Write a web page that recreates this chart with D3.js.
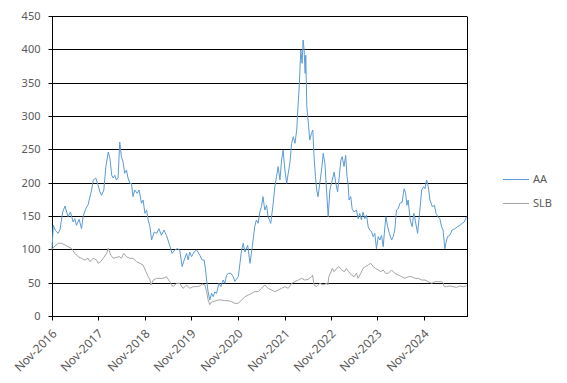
<!DOCTYPE html>
<html>
<head>
<meta charset="utf-8">
<script src="https://cdn.jsdelivr.net/npm/d3@7"></script>
<style>
  body { margin: 0; background: #fff; }
  text { font-family: "Noto Sans", sans-serif; }
  .tick-label { font-size: 11px; fill: #595959; }
  .x-label { font-size: 12px; fill: #595959; }
  .legend-label { font-size: 11px; fill: #595959; }
</style>
</head>
<body>
<div id="chart"></div>
<script>
// series names
const seriesNames = ["AA", "SLB"];

// AA (indexed, Nov-2016 = 100)
const aaDates = ["2016-11-01","2016-11-11","2016-11-29","2016-12-20","2017-01-03","2017-01-24","2017-02-11","2017-02-24","2017-03-07","2017-03-26",
  "2017-04-16","2017-04-29","2017-05-12","2017-06-02","2017-06-21","2017-07-03","2017-07-24","2017-08-12","2017-08-20","2017-09-08",
  "2017-09-21","2017-10-11","2017-10-29","2017-11-12","2017-11-25","2017-12-13","2017-12-29","2018-01-17","2018-01-30","2018-02-13",
  "2018-02-25","2018-03-09","2018-03-22","2018-04-04","2018-04-17","2018-04-30","2018-05-13","2018-05-26","2018-06-09","2018-06-21",
  "2018-07-05","2018-07-18","2018-07-30","2018-08-13","2018-09-01","2018-09-16","2018-10-05","2018-10-17","2018-11-01","2018-11-14",
  "2018-11-26","2018-12-10","2018-12-23","2019-01-13","2019-02-01","2019-02-19","2019-03-10","2019-03-30","2019-04-19","2019-05-14",
  "2019-06-02","2019-06-23","2019-07-14","2019-08-01","2019-08-20","2019-09-05","2019-09-24","2019-10-06","2019-10-19","2019-11-02",
  "2019-11-22","2019-12-11","2019-12-23","2020-01-06","2020-01-24","2020-02-09","2020-02-20","2020-02-28","2020-03-11","2020-03-24",
  "2020-04-07","2020-04-20","2020-05-02","2020-05-16","2020-06-04","2020-06-19","2020-07-07","2020-07-20","2020-08-03","2020-08-16",
  "2020-09-06","2020-09-24","2020-10-07","2020-11-03","2020-11-16","2020-11-29","2020-12-12","2020-12-25","2021-01-16","2021-02-03",
  "2021-02-21","2021-03-12","2021-03-25","2021-04-08","2021-04-21","2021-05-04","2021-05-16","2021-05-30","2021-06-13","2021-06-25",
  "2021-07-16","2021-08-04","2021-08-17","2021-08-30","2021-09-12","2021-09-26","2021-10-09","2021-10-21","2021-11-04","2021-11-18",
  "2021-11-30","2021-12-13","2021-12-27","2022-01-09","2022-01-22","2022-02-05","2022-02-13","2022-02-23","2022-03-01","2022-03-09",
  "2022-03-19","2022-03-27","2022-04-04","2022-04-12","2022-04-17","2022-04-25","2022-05-05","2022-05-18","2022-06-01","2022-06-11",
  "2022-06-21","2022-07-02","2022-07-12","2022-07-22","2022-08-05","2022-08-19","2022-09-01","2022-09-14","2022-09-27","2022-10-10",
  "2022-10-23","2022-11-11","2022-11-26","2022-12-07","2022-12-23","2023-01-02","2023-01-18","2023-01-28","2023-02-11","2023-02-24",
  "2023-03-07","2023-03-15","2023-03-23","2023-04-05","2023-04-16","2023-05-01","2023-05-20","2023-06-02","2023-06-15","2023-06-28",
  "2023-07-11","2023-07-24","2023-08-07","2023-08-20","2023-09-02","2023-09-16","2023-09-28","2023-10-11","2023-10-24","2023-11-07",
  "2023-11-20","2023-12-03","2023-12-16","2023-12-29","2024-01-06","2024-01-20","2024-02-02","2024-02-20","2024-03-03","2024-03-16",
  "2024-03-29","2024-04-12","2024-04-25","2024-05-13","2024-05-28","2024-06-09","2024-06-19","2024-06-29","2024-07-15","2024-07-30",
  "2024-08-13","2024-08-26","2024-09-11","2024-09-24","2024-10-13","2024-10-28","2024-11-08","2024-11-21","2024-12-04","2024-12-17",
  "2025-01-05","2025-01-21","2025-02-03","2025-02-17","2025-03-05","2025-03-18","2025-03-30","2025-04-13","2025-04-21","2025-05-04",
  "2025-05-22","2025-06-10","2025-07-01","2025-07-22","2025-08-09","2025-08-27","2025-09-12","2025-10-01"];
const aaValues = [100,136,128,124,130,156,165,156,149,156,
  141,146,136,145,131,149,161,167,174,189,
  204,207,196,186,181,189,224,246,236,211,
  207,211,204,207,261,239,231,214,219,207,
  199,199,179,189,184,189,169,174,154,159,
  144,134,114,126,124,131,121,129,121,106,
  94,99,101,99,74,84,94,84,96,89,
  96,99,96,91,84,84,69,54,36,24,
  34,29,36,34,49,44,54,49,61,64,
  64,59,52,59,79,99,109,96,106,79,
  104,134,144,139,156,164,179,159,166,149,
  139,169,194,209,224,204,234,249,219,199,
  214,229,259,269,259,279,309,339,364,399,
  379,414,399,364,391,314,294,264,274,279,
  239,209,189,179,199,219,244,229,189,149,
  189,204,216,201,186,204,234,239,224,241,
  209,199,174,179,161,156,159,146,154,144,
  156,146,151,134,129,126,119,124,101,119,
  114,121,104,134,149,134,124,114,119,129,
  159,161,169,171,191,184,166,174,144,134,
  154,141,124,149,189,194,191,204,194,174,
  164,166,154,149,146,134,129,101,109,119,
  121,129,131,134,136,139,141,149];

// SLB (indexed, Nov-2016 = 100)
const slbDates = ["2016-11-01","2016-11-24","2016-12-20","2017-01-16","2017-02-11","2017-03-07","2017-04-03","2017-04-29","2017-05-25","2017-06-21",
  "2017-07-16","2017-08-12","2017-08-25","2017-09-21","2017-10-17","2017-10-29","2017-11-18","2017-12-08","2018-01-04","2018-01-17",
  "2018-02-05","2018-02-25","2018-03-22","2018-04-17","2018-04-30","2018-05-18","2018-06-09","2018-07-05","2018-07-30","2018-08-27",
  "2018-09-22","2018-10-17","2018-11-09","2018-11-26","2018-12-10","2018-12-18","2019-01-05","2019-02-01","2019-02-27","2019-03-23",
  "2019-04-19","2019-05-14","2019-06-10","2019-07-06","2019-08-01","2019-08-27","2019-09-24","2019-10-19","2019-11-14","2019-12-11",
  "2020-01-06","2020-01-24","2020-02-15","2020-02-28","2020-03-11","2020-03-24","2020-04-07","2020-05-02","2020-05-28","2020-06-24",
  "2020-07-20","2020-08-16","2020-09-12","2020-10-07","2020-11-03","2020-11-29","2020-12-25","2021-01-21","2021-02-16","2021-03-12",
  "2021-04-08","2021-05-04","2021-05-30","2021-06-25","2021-07-22","2021-08-17","2021-09-12","2021-10-09","2021-11-04","2021-11-30",
  "2021-12-27","2022-01-22","2022-02-17","2022-03-14","2022-04-09","2022-05-05","2022-06-01","2022-06-09","2022-06-21","2022-07-10",
  "2022-08-05","2022-09-01","2022-09-27","2022-10-07","2022-10-15","2022-11-01","2022-11-11","2022-11-26","2022-12-15","2023-01-02",
  "2023-01-24","2023-02-14","2023-03-02","2023-03-20","2023-04-11","2023-05-01","2023-05-20","2023-06-02","2023-06-23","2023-07-11",
  "2023-07-29","2023-08-20","2023-09-10","2023-09-28","2023-10-17","2023-11-07","2023-11-28","2023-12-16","2024-01-04","2024-01-25",
  "2024-02-20","2024-03-16","2024-04-12","2024-05-08","2024-06-03","2024-06-29","2024-07-25","2024-08-21","2024-09-16","2024-10-13",
  "2024-11-08","2024-12-04","2024-12-31","2025-01-26","2025-02-21","2025-03-18","2025-03-30","2025-04-08","2025-04-27","2025-05-22",
  "2025-06-17","2025-07-14","2025-08-09","2025-09-04","2025-10-01"];
const slbValues = [100,105,109,109,106.5,104,101.5,94,89,86.5,
  84,86.5,81.5,86.5,84,79,81.5,86.5,94,101.5,
  91.5,86.5,88,89,86.5,94,89,86.5,86.5,81.5,
  79,76.5,66.5,59,55,46.5,54,56.5,56.5,56.5,
  59,51.5,44,49,49,41.5,46.5,41.5,44,44,
  45,48,46.5,36.5,24,17,21,22.5,24,24,
  23,23,21.5,19,19,24,29,31.5,34,36.5,
  36.5,41.5,46.5,41.5,39,36.5,39,41.5,44,41.5,
  49,51.5,54,56.5,54,55,59,61.5,46.5,44,
  49,46.5,49,46.5,59,66,71.5,66.5,71.5,74,
  69,66.5,71.5,66.5,61.5,59,64,56.5,64,71.5,
  74,76.5,79,74,71.5,69,66.5,69,64,64,
  69,64,61.5,59,56.5,59,59,56.5,56.5,54,
  54,51.5,49,51.5,51.5,51.5,50,44,44,45,
  44,43,45,44,45];

// axis
const yTicks = [0, 50, 100, 150, 200, 250, 300, 350, 400, 450];
const xTickLabels = ["Nov-2016","Nov-2017","Nov-2018","Nov-2019","Nov-2020","Nov-2021","Nov-2022","Nov-2023","Nov-2024"];

const seriesColors = ["#5B9BD5", "#A5A5A5"];

const width = 567, height = 383;
const margin = {top: 16, right: 100, bottom: 67, left: 52};
const innerWidth = width - margin.left - margin.right;   // 415
const innerHeight = height - margin.top - margin.bottom; // 300

const parseDate = d3.timeParse("%Y-%m-%d");
const parseTick = d3.timeParse("%b-%Y");

const series = [
  {name: seriesNames[0], color: seriesColors[0], values: aaDates.map((d, i) => ({date: parseDate(d), value: aaValues[i]}))},
  {name: seriesNames[1], color: seriesColors[1], values: slbDates.map((d, i) => ({date: parseDate(d), value: slbValues[i]}))}
];

const svg = d3.select("#chart").append("svg")
  .attr("width", width)
  .attr("height", height);

const xScale = d3.scaleTime()
  .domain([parseDate("2016-11-01"), parseDate("2025-10-04")])
  .range([0, innerWidth]);

const yScale = d3.scaleLinear()
  .domain([0, 450])
  .range([innerHeight, 0]);

const g = svg.append("g")
  .attr("transform", `translate(${margin.left},${margin.top})`);

// gridlines
g.append("g")
  .selectAll("line")
  .data(yTicks.filter(d => d > 0))
  .join("line")
  .attr("x1", 0)
  .attr("x2", innerWidth)
  .attr("y1", d => Math.round(yScale(d)) + 0.5)
  .attr("y2", d => Math.round(yScale(d)) + 0.5)
  .attr("stroke", "#000")
  .attr("stroke-width", 1);

// right border
g.append("line")
  .attr("x1", innerWidth + 0.5).attr("x2", innerWidth + 0.5)
  .attr("y1", 0.5).attr("y2", innerHeight + 0.5)
  .attr("stroke", "#000");

// y axis
const yAxis = d3.axisLeft(yScale)
  .tickValues(yTicks)
  .tickSize(4)
  .tickPadding(8)
  .tickFormat(d3.format("d"));

const yAxisG = g.append("g").attr("transform", "translate(0.5,0)").call(yAxis);
yAxisG.selectAll(".tick").attr("transform", d => `translate(0,${Math.round(yScale(d)) + 0.5})`);
yAxisG.select(".domain").attr("stroke", "#000").attr("d", `M0,0.5V${innerHeight + 0.5}`);
yAxisG.selectAll(".tick line").attr("stroke", "#000");
yAxisG.selectAll(".tick text").attr("class", "tick-label").attr("font-size", null).attr("font-family", null);

// x axis
const xAxis = d3.axisBottom(xScale)
  .tickValues(xTickLabels.map(parseTick))
  .tickSize(4)
  .tickFormat(d3.timeFormat("%b-%Y"));

const xAxisG = g.append("g")
  .attr("transform", `translate(0,${innerHeight + 0.5})`)
  .call(xAxis);
xAxisG.selectAll(".tick").attr("transform", d => `translate(${Math.round(xScale(d)) + 0.5},0)`);
xAxisG.select(".domain").attr("stroke", "#000").attr("d", `M0,0H${innerWidth + 1}`);
xAxisG.selectAll(".tick line").attr("stroke", "#000");
xAxisG.selectAll(".tick text")
  .attr("class", "x-label")
  .attr("font-size", null).attr("font-family", null)
  .style("text-anchor", "end")
  .attr("x", 0)
  .attr("y", 0)
  .attr("dy", "0")
  .attr("transform", "translate(5,18) rotate(-45)");

// lines
const lineGenerator = d3.line()
  .x(d => xScale(d.date))
  .y(d => yScale(d.value));

g.selectAll(".series-line")
  .data(series)
  .join("path")
  .attr("class", "series-line")
  .attr("fill", "none")
  .attr("stroke", d => d.color)
  .attr("stroke-width", 1)
  .attr("stroke-linejoin", "round")
  .attr("d", d => lineGenerator(d.values));

// legend
const legend = svg.append("g")
  .attr("transform", "translate(503,179)");

const legendItem = legend.selectAll("g")
  .data(series)
  .join("g")
  .attr("transform", (d, i) => `translate(0,${i * 24})`);

legendItem.append("line")
  .attr("x1", 0).attr("x2", 26)
  .attr("y1", 0.5).attr("y2", 0.5)
  .attr("stroke", d => d.color)
  .attr("stroke-width", 1);

legendItem.append("text")
  .attr("class", "legend-label")
  .attr("x", 30)
  .attr("y", 4)
  .text(d => d.name);
</script>
</body>
</html>
